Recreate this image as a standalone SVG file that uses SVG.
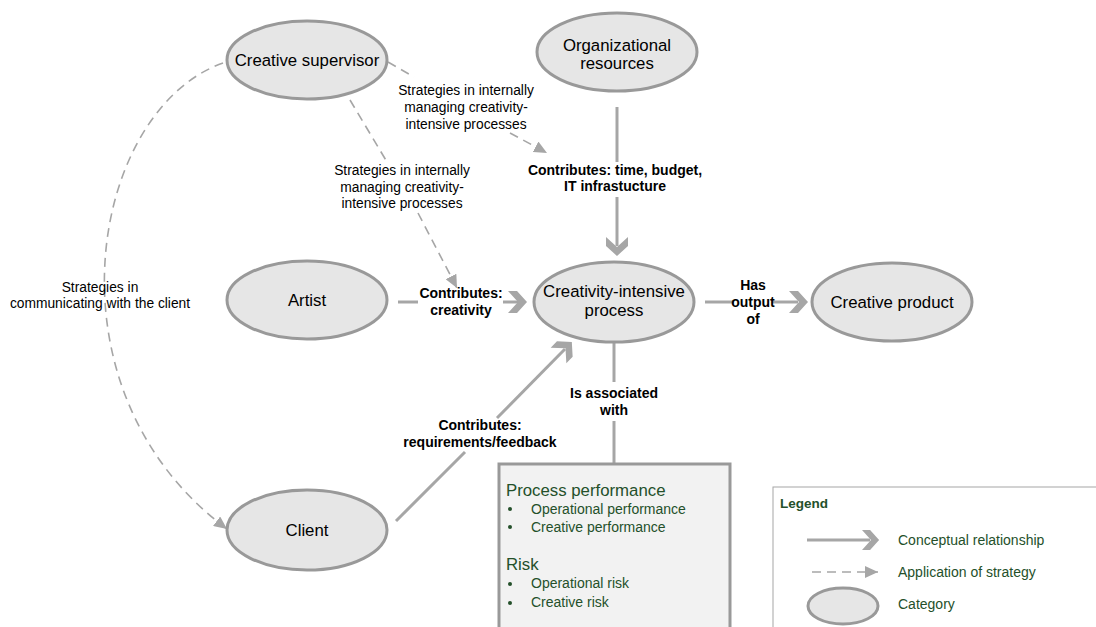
<svg xmlns="http://www.w3.org/2000/svg" width="1096" height="627" viewBox="0 0 1096 627">
  <style>
    .node { fill: #e6e6e6; stroke: #999999; stroke-width: 3; }
    .nlab { font-family: "Liberation Sans", Arial, sans-serif; font-size: 16.8px; fill: #000; text-anchor: middle; }
    .rel { stroke: #a6a6a6; stroke-width: 3; fill: none; }
    .strat { stroke: #a6a6a6; stroke-width: 1.6; fill: none; stroke-dasharray: 9 6; }
    .elab { font-family: "Liberation Sans", Arial, sans-serif; font-size: 13.8px; fill: #000; text-anchor: middle; }
    .blab { font-family: "Liberation Sans", Arial, sans-serif; font-size: 14px; font-weight: bold; fill: #000; text-anchor: middle; }
    .green { font-family: "Liberation Sans", Arial, sans-serif; fill: #24502a; }
    .chev { fill: #a6a6a6; }
  </style>
  <defs>
    <!-- chevron head: notch at x=10, tip at x=19 -->
    <path id="chev" class="chev" d="M0,-11 L9,-11 L19,0 L9,11 L0,11 L10,0 Z"/>
    <marker id="tri" markerUnits="userSpaceOnUse" markerWidth="14" markerHeight="12" refX="13" refY="6" orient="auto">
      <path d="M0,0 L13,6 L0,12 Z" fill="#a6a6a6"/>
    </marker>
  </defs>

  <rect width="1096" height="627" fill="#ffffff"/>

  <!-- connectors -->
  <g id="connectors">
    <!-- Organizational resources -> process -->
    <line class="rel" x1="617" y1="107" x2="617" y2="162"/>
    <line class="rel" x1="617" y1="197" x2="617" y2="246"/>
    <use href="#chev" transform="translate(617,237) rotate(90)"/>
    <text class="blab" x="615" y="175">Contributes: time, budget,</text>
    <text class="blab" x="615" y="191">IT infrastucture</text>

    <!-- Artist -> process -->
    <line class="rel" x1="398" y1="302" x2="418" y2="302"/>
    <line class="rel" x1="503" y1="302" x2="518" y2="302"/>
    <use href="#chev" transform="translate(508,302)"/>
    <text class="blab" x="461" y="298">Contributes:</text>
    <text class="blab" x="461" y="315">creativity</text>

    <!-- process -> Creative product -->
    <line class="rel" x1="705" y1="302" x2="734" y2="302"/>
    <line class="rel" x1="772" y1="302" x2="798" y2="302"/>
    <use href="#chev" transform="translate(789,302)"/>
    <text class="blab" x="753" y="290">Has</text>
    <text class="blab" x="753" y="307">output</text>
    <text class="blab" x="753" y="324">of</text>

    <!-- Client -> process -->
    <line class="rel" x1="396" y1="521" x2="465" y2="452"/>
    <line class="rel" x1="497" y1="418" x2="565" y2="349"/>
    <use href="#chev" transform="translate(558.5,355.5) rotate(-45.5)"/>
    <text class="blab" x="480" y="430">Contributes:</text>
    <text class="blab" x="480" y="447">requirements/feedback</text>

    <!-- process -> performance and risk -->
    <line class="rel" x1="614" y1="342" x2="614" y2="382"/>
    <line class="rel" x1="614" y1="421" x2="614" y2="464"/>
    <text class="blab" x="614" y="398">Is associated</text>
    <text class="blab" x="614" y="415">with</text>

    <!-- Creative supervisor -> resources contribution -->
    <line class="strat" x1="388" y1="62" x2="414" y2="77"/>
    <line class="strat" x1="510" y1="133" x2="547" y2="153" marker-end="url(#tri)"/>
    <text class="elab" x="466" y="95">Strategies in internally</text>
    <text class="elab" x="466" y="112">managing creativity-</text>
    <text class="elab" x="466" y="129">intensive processes</text>

    <!-- Creative supervisor -> process -->
    <line class="strat" x1="350" y1="100" x2="387" y2="162"/>
    <line class="strat" x1="418" y1="213" x2="457" y2="288" marker-end="url(#tri)"/>
    <text class="elab" x="402" y="175">Strategies in internally</text>
    <text class="elab" x="402" y="192">managing creativity-</text>
    <text class="elab" x="402" y="208">intensive processes</text>

    <!-- Creative supervisor -> Client -->
    <path class="strat" d="M223,63 C90,110 40,390 227,529" marker-end="url(#tri)"/>
    <text class="elab" x="100" y="292">Strategies in</text>
    <text class="elab" x="100" y="308">communicating with the client</text>
  </g>

  <!-- nodes -->
  <g id="creative-supervisor">
    <ellipse class="node" cx="307" cy="60" rx="80" ry="39"/>
    <text class="nlab" x="307" y="66">Creative supervisor</text>
  </g>
  <g id="organizational-resources">
    <ellipse class="node" cx="617" cy="52" rx="80" ry="39"/>
    <text class="nlab" x="617" y="51">Organizational</text>
    <text class="nlab" x="617" y="69">resources</text>
  </g>
  <g id="artist">
    <ellipse class="node" cx="307" cy="300" rx="80" ry="39"/>
    <text class="nlab" x="307" y="306">Artist</text>
  </g>
  <g id="creativity-intensive-process">
    <ellipse class="node" cx="614" cy="302" rx="80" ry="40"/>
    <text class="nlab" x="614" y="297">Creativity-intensive</text>
    <text class="nlab" x="614" y="316">process</text>
  </g>
  <g id="creative-product">
    <ellipse class="node" cx="892" cy="302" rx="80" ry="39"/>
    <text class="nlab" x="892" y="308">Creative product</text>
  </g>
  <g id="client">
    <ellipse class="node" cx="307" cy="530" rx="80" ry="40"/>
    <text class="nlab" x="307" y="536">Client</text>
  </g>

  <!-- performance and risk box -->
  <g id="performance-risk">
    <rect x="499" y="464" width="231" height="180" fill="#f2f2f2" stroke="#999999" stroke-width="3"/>
    <text class="green" x="506" y="496" font-size="16.8">Process performance</text>
    <circle cx="510" cy="509" r="2" fill="#24502a"/>
    <text class="green" x="531" y="514" font-size="14">Operational performance</text>
    <circle cx="510" cy="527" r="2" fill="#24502a"/>
    <text class="green" x="531" y="532" font-size="14">Creative performance</text>
    <text class="green" x="506" y="570" font-size="16.8">Risk</text>
    <circle cx="510" cy="584" r="2" fill="#24502a"/>
    <text class="green" x="531" y="588" font-size="14">Operational risk</text>
    <circle cx="510" cy="603" r="2" fill="#24502a"/>
    <text class="green" x="531" y="607" font-size="14">Creative risk</text>
  </g>

  <!-- legend -->
  <g id="legend">
    <rect x="773" y="487" width="340" height="160" fill="#ffffff" stroke="#a6a6a6" stroke-width="1"/>
    <text class="green" x="780" y="508" font-size="13.5" font-weight="bold">Legend</text>
    <line class="rel" x1="807" y1="540" x2="870" y2="540"/>
    <use href="#chev" transform="translate(862,540) scale(0.9)"/>
    <text class="green" x="898" y="545" font-size="14">Conceptual relationship</text>
    <line class="strat" x1="812" y1="572" x2="878" y2="572" stroke-dasharray="10 6" marker-end="url(#tri)"/>
    <text class="green" x="898" y="577" font-size="14">Application of strategy</text>
    <ellipse class="node" cx="843" cy="606" rx="35" ry="18" stroke-width="2.5"/>
    <text class="green" x="898" y="609" font-size="14">Category</text>
  </g>
</svg>
